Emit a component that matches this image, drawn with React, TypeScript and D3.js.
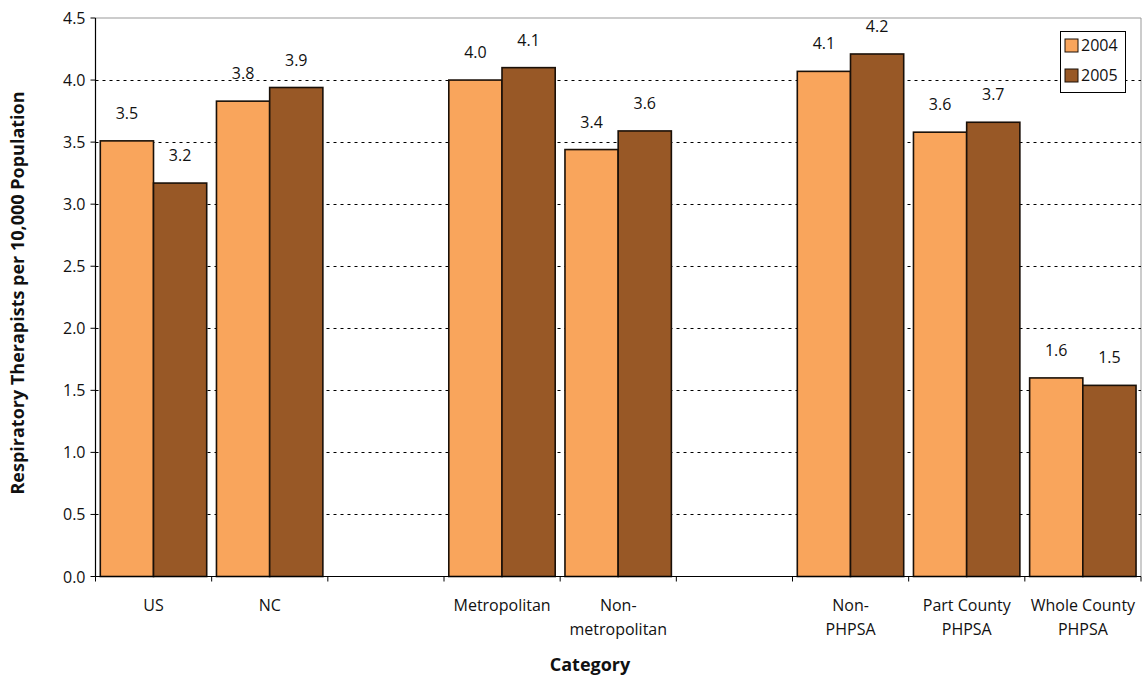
import React from "react";
import * as d3 from "d3";

const categories: string[][] = [
  ["US"], ["NC"], [], ["Metropolitan"], ["Non-", "metropolitan"], [], ["Non-", "PHPSA"], ["Part County", "PHPSA"], ["Whole County", "PHPSA"],
];
const values2004: (number | null)[] = [3.51, 3.83, null, 4.0, 3.44, null, 4.07, 3.58, 1.6];
const values2005: (number | null)[] = [3.17, 3.94, null, 4.1, 3.59, null, 4.21, 3.66, 1.54];
const labels2004: string[] = ["3.5", "3.8", "", "4.0", "3.4", "", "4.1", "3.6", "1.6"];
const labels2005: string[] = ["3.2", "3.9", "", "4.1", "3.6", "", "4.2", "3.7", "1.5"];
const yTicks: number[] = [0, 0.5, 1, 1.5, 2, 2.5, 3, 3.5, 4, 4.5];
const seriesNames = ["2004", "2005"];
const colors = ["#F9A55C", "#985826"];

const W = 1142, H = 679;
const X0 = 95.5, X1 = 1141, Y0 = 18, Y1 = 576.5;
const FONT = "'Open Sans', 'Noto Sans', sans-serif";

export default function App() {
  const x = d3.scaleBand<number>().domain(d3.range(categories.length)).range([X0, X1]).paddingInner(0).paddingOuter(0);
  const y = d3.scaleLinear().domain([0, 4.5]).range([Y1, Y0]);
  const bw = x.bandwidth();
  const inset = 4.8;
  const barW = 53.2;
  const series = [values2004, values2005];
  const labels = [labels2004, labels2005];

  return (
    <svg width={W} height={H} style={{ position: "absolute", left: 0, top: 0, background: "#fff" }}>
      <line x1={X0} x2={X1} y1={Y0} y2={Y0} stroke="#999" strokeWidth={1} />
      <line x1={X1} x2={X1} y1={Y0} y2={Y1} stroke="#999" strokeWidth={1} />
      {yTicks.filter(t => t > 0 && t < 4.5).map(t => (
        <line key={t} x1={X0} x2={X1} y1={Math.round(y(t)) + 0.5} y2={Math.round(y(t)) + 0.5} stroke="#000" strokeWidth={1} strokeDasharray="3,4" />
      ))}
      {categories.map((c, i) => series.map((s, k) => {
        const v = s[i];
        if (v == null) return null;
        const bx = (x(i) as number) + inset + k * barW;
        return (
          <g key={`${i}-${k}`}>
            <rect x={bx} y={y(v)} width={barW} height={Y1 - y(v)} fill={colors[k]} stroke="#1a1008" strokeWidth={1.6} />
            <text x={bx + barW / 2} y={y(v) - 22} textAnchor="middle" fontFamily={FONT} fontSize={16} fill="#111">{labels[k][i]}</text>
          </g>
        );
      }))}
      <line x1={X0} x2={X0} y1={Y0} y2={Y1} stroke="#000" strokeWidth={1.2} />
      {yTicks.map(t => (
        <g key={t}>
          <line x1={X0 - 5} x2={X0} y1={y(t)} y2={y(t)} stroke="#000" />
          <text x={X0 - 10} y={y(t) + 6} textAnchor="end" fontFamily={FONT} fontSize={16} fill="#111">{t.toFixed(1)}</text>
        </g>
      ))}
      <line x1={X0} x2={X1} y1={Y1} y2={Y1} stroke="#000" strokeWidth={1.2} />
      {d3.range(categories.length + 1).map(i => {
        const tx = X0 + i * bw;
        return <line key={i} x1={tx} x2={tx} y1={Y1} y2={Y1 + 5} stroke="#000" />;
      })}
      {categories.map((c, i) => (
        <text key={i} textAnchor="middle" fontFamily={FONT} fontSize={16} fill="#111">
          {c.map((line, j) => (
            <tspan key={j} x={(x(i) as number) + bw / 2} y={611 + j * 24}>{line}</tspan>
          ))}
        </text>
      ))}
      <text x={590} y={671} textAnchor="middle" fontFamily={FONT} fontSize={18} fontWeight="bold" fill="#111">Category</text>
      <text transform={`translate(24,293) rotate(-90)`} textAnchor="middle" fontFamily={FONT} fontSize={18} fontWeight="bold" fill="#111">Respiratory Therapists per 10,000 Population</text>
      <rect x={1060.5} y={31.5} width={65} height={61} fill="#fff" stroke="#000" strokeWidth={1} />
      {seriesNames.map((n, k) => (
        <g key={n}>
          <rect x={1065} y={39 + k * 30} width={13} height={13} fill={colors[k]} stroke="#1a1008" strokeWidth={1} />
          <text x={1081} y={51 + k * 30} fontFamily={FONT} fontSize={16} fill="#111">{n}</text>
        </g>
      ))}
    </svg>
  );
}
